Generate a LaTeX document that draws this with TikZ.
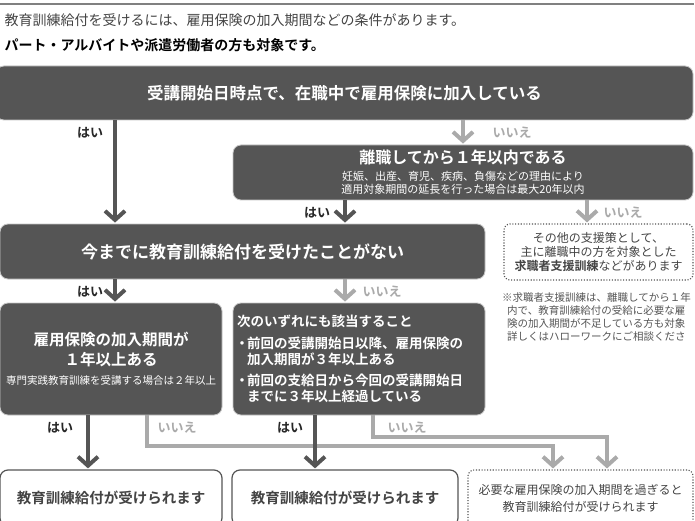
\documentclass[tikz,border=0pt]{standalone}
\usepackage{fontspec}
\setmainfont{Noto Sans CJK JP}[BoldFont={Noto Sans CJK JP Bold}]
\usetikzlibrary{arrows.meta,positioning}

\definecolor{boxgray}{HTML}{555555}
\definecolor{nogray}{HTML}{AAAAAA}
\definecolor{txtgray}{HTML}{444444}

\begin{document}
\begin{tikzpicture}[x=1pt,y=-1pt,>={Straight Barb[length=9pt,width=20pt]},
                    shorten >=1pt]
	\tikzstyle{darkbox}=[fill=boxgray,draw=gray!45,line width=0.8pt,rounded corners=8pt,
	                     text=white,inner sep=0pt,align=center]
	\tikzstyle{resultbox}=[fill=white,draw=boxgray,line width=1.2pt,rounded corners=8pt,
	                       text=txtgray,inner sep=0pt,align=center]
	\tikzstyle{otherbox}=[fill=white,draw=boxgray,line width=1.1pt,dash pattern=on 1.1pt off 1.7pt,
	                      rounded corners=6pt,text=txtgray,inner sep=0pt,align=center]
	\tikzstyle{yespath}=[->,draw=boxgray,line width=4pt]
	\tikzstyle{nopath}=[->,draw=nogray,line width=4pt]
	\tikzstyle{yeslabel}=[font=\fontsize{13}{13}\selectfont\bfseries,text=black!85]
	\tikzstyle{nolabel}=[font=\fontsize{13}{13}\selectfont\bfseries,text=nogray]

	\useasboundingbox (0,0) rectangle (695,521);
	\clip (0,0) rectangle (695,521);
	\fill[white] (0,0) rectangle (695,521);

	% heading
	\draw[gray,line width=2pt] (0,4) -- (695,4);
	\node[anchor=west,text=txtgray,font=\fontsize{14}{14}\selectfont] (intro1) at (1,20)
		{教育訓練給付を受けるには、雇用保険の加入期間などの条件があります。};
	\node[anchor=west,font=\fontsize{14}{14}\selectfont\bfseries] (intro2) at (1,45)
		{パート・アルバイトや派遣労働者の方も対象です。};

	% questions
	\node[darkbox,minimum width=697,minimum height=54,font=\fontsize{16.5}{20}\selectfont\bfseries]
		(q1) at (344.5,93) {受講開始日時点で、在職中で雇用保険に加入している};
	\node[darkbox,minimum width=460,minimum height=55,font=\fontsize{11}{13}\selectfont]
		(q2) at (463,172.5)
		{{\fontsize{16}{17}\selectfont\bfseries 離職してから１年以内である}\\[4pt]
		 妊娠、出産、育児、疾病、負傷などの理由により\\
		 適用対象期間の延長を行った場合は最大20年以内};
	\node[darkbox,minimum width=485,minimum height=55,font=\fontsize{17}{20}\selectfont\bfseries]
		(q3) at (242.5,251.5) {今までに教育訓練給付を受けたことがない};
	\node[darkbox,minimum width=222,minimum height=112,font=\fontsize{10.5}{20}\selectfont]
		(q4) at (111,359)
		{{\fontsize{15.5}{20}\selectfont\bfseries 雇用保険の加入期間が}\\
		 {\fontsize{15.5}{20}\selectfont\bfseries １年以上ある}\\[-1pt]
		 専門実践教育訓練を受講する場合は２年以上};
	\node[darkbox,minimum width=252,minimum height=112,text width=244,align=left,
	      font=\fontsize{13.5}{16}\selectfont\bfseries] (q5) at (359,359)
		{次のいずれにも該当すること\\[6pt]
		 \makebox[10pt]{・}前回の受講開始日以降、雇用保険の\\
		 \hspace*{10pt}加入期間が３年以上ある\\[5pt]
		 \makebox[10pt]{・}前回の支給日から今回の受講開始日\\
		 \hspace*{10pt}までに３年以上経過している};

	% other support
	\node[otherbox,minimum width=189,minimum height=56,font=\fontsize{12}{14}\selectfont]
		(o1) at (598.5,252)
		{その他の支援策として、\\主に離職中の方を対象とした\\\textbf{求職者支援訓練}などがあります};
	\node[anchor=north west,align=left,inner sep=0pt,text=boxgray,
	      font=\fontsize{10.5}{13.3}\selectfont] (note) at (502,292)
		{※求職者支援訓練は、離職してから１年\\
		 \hspace*{5pt}内で、教育訓練給付の受給に必要な雇\\
		 \hspace*{5pt}険の加入期間が不足している方も対象\\
		 \hspace*{5pt}詳しくはハローワークにご相談くださ};

	% results
	\node[resultbox,minimum width=222,minimum height=56,font=\fontsize{14.5}{16}\selectfont\bfseries]
		(r1) at (111,498) {教育訓練給付が受けられます};
	\node[resultbox,minimum width=226,minimum height=56,font=\fontsize{14.5}{16}\selectfont\bfseries]
		(r2) at (345,498) {教育訓練給付が受けられます};
	\node[otherbox,minimum width=225,minimum height=56,font=\fontsize{12}{17}\selectfont]
		(o2) at (580.5,498) {必要な雇用保険の加入期間を過ぎると\\教育訓練給付が受けられます};

	% no
	\draw[nopath] (q1.south -| q2.north) -- (q2.north);
	\draw[nopath] (q2.south -| 587,0) -- (o1.north -| 587,0);
	\draw[nopath] (q3.south -| 345,0) -- (q5.north -| 345,0);
	\draw[nopath] (q4.south -| 147,0) |- ([yshift=23pt]o2.north -| 553,0) -- (o2.north -| 553,0);
	\draw[nopath] (q5.south -| 373,0) |- ([yshift=32pt]o2.north -| 607,0) -- (o2.north -| 607,0);

	% yes
	\draw[yespath] (q1.south -| 115,0) -- (q3.north -| 115,0);
	\draw[yespath] (q2.south -| 345,0) -- (q3.north -| 345,0);
	\draw[yespath] (q3.south -| 115,0) -- (q4.north -| 115,0);
	\draw[yespath] (q4.south -| 88,0) -- (r1.north -| 88,0);
	\draw[yespath] (q5.south -| 315,0) -- (r2.north -| 315,0);

	% labels
	\node[yeslabel] (y1) at (90,133) {はい};
	\node[nolabel]  (n1) at (512,133) {いいえ};
	\node[yeslabel] (y2) at (317,213) {はい};
	\node[nolabel]  (n2) at (623,213) {いいえ};
	\node[yeslabel] (y3) at (90,292) {はい};
	\node[nolabel]  (n3) at (382,292) {いいえ};
	\node[yeslabel] (y4) at (60,428) {はい};
	\node[nolabel]  (n4) at (177,428) {いいえ};
	\node[yeslabel] (y5) at (290,428) {はい};
	\node[nolabel]  (n5) at (407,428) {いいえ};
\end{tikzpicture}
\end{document}
